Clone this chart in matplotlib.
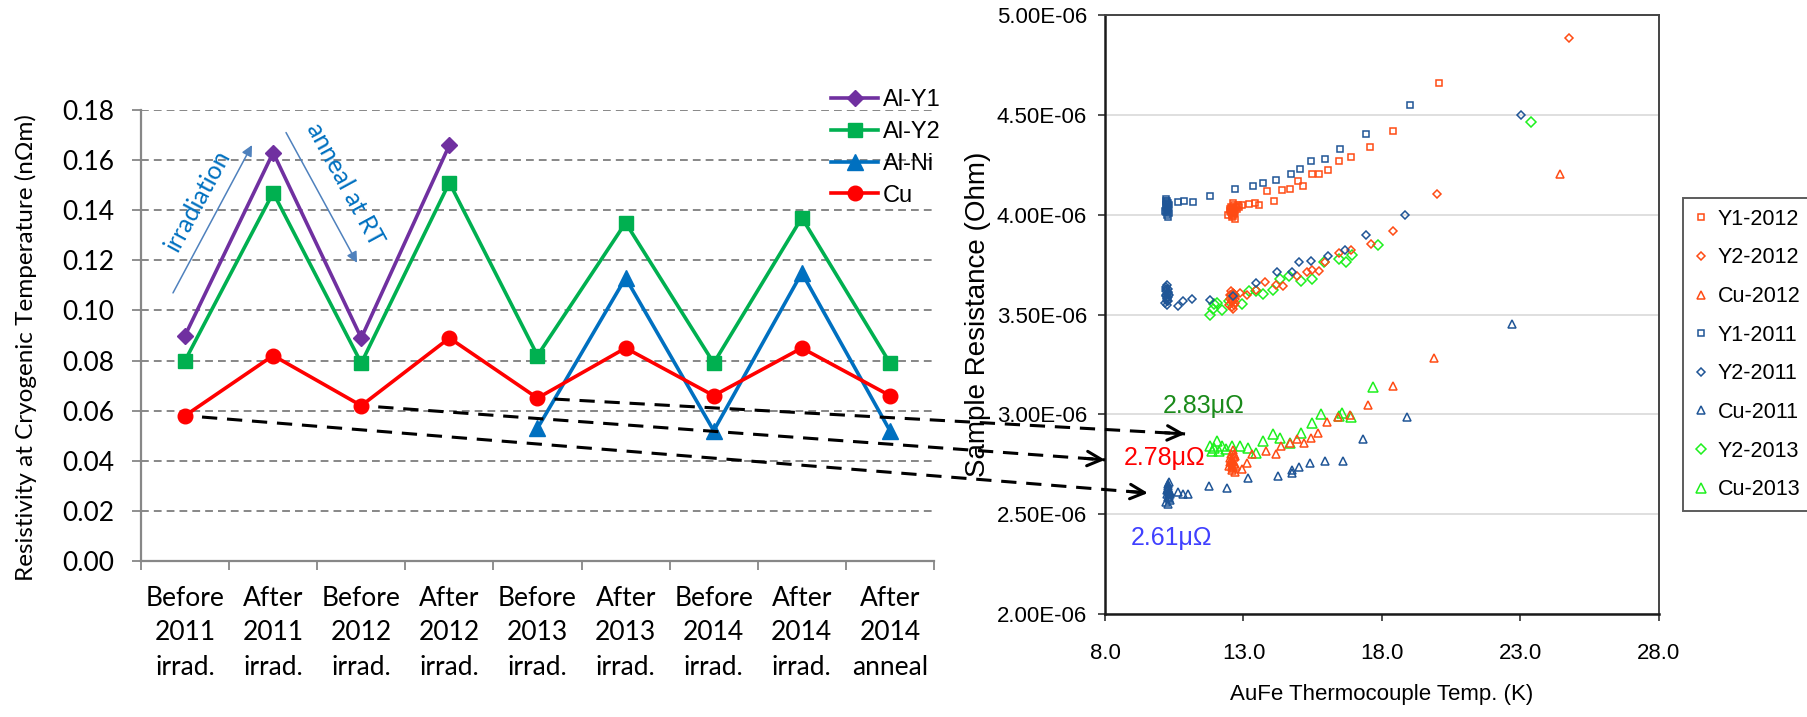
import numpy as np
import matplotlib
matplotlib.use("Agg")
import matplotlib.pyplot as plt
from matplotlib.lines import Line2D
from matplotlib.patches import FancyArrowPatch
from matplotlib.ticker import FuncFormatter

nan = np.nan

# ---------------- left panel: resistivity per stage ----------------
stages = ["Before\n2011\nirrad.", "After\n2011\nirrad.", "Before\n2012\nirrad.",
          "After\n2012\nirrad.", "Before\n2013\nirrad.", "After\n2013\nirrad.",
          "Before\n2014\nirrad.", "After\n2014\nirrad.", "After\n2014\nanneal"]
al_y1 = [0.090, 0.163, 0.089, 0.166, nan, nan, nan, nan, nan]
al_y2 = [0.080, 0.147, 0.079, 0.151, 0.082, 0.135, 0.079, 0.137, 0.079]
al_ni = [nan, nan, nan, nan, 0.053, 0.113, 0.052, 0.115, 0.052]
cu = [0.058, 0.082, 0.062, 0.089, 0.065, 0.085, 0.066, 0.085, 0.066]
left_yticks = [0.00, 0.02, 0.04, 0.06, 0.08, 0.10, 0.12, 0.14, 0.16, 0.18]

# ---------------- right panel: resistance vs temperature (uOhm) ----------------
y1_2012_T = [12.45, 12.50, 12.55, 12.58, 12.60, 12.62, 12.65, 12.68, 12.70, 12.52, 12.57,
             12.63, 12.66, 12.72, 12.75, 12.80, 12.85, 12.54, 12.61, 12.67, 12.59, 12.64,
             12.96, 13.19, 13.40, 13.56, 13.86, 14.11, 14.39, 14.67, 14.97, 15.14, 15.46,
             15.74, 16.06, 16.46, 16.89, 17.57, 18.38, 20.04]
y1_2012_R = [4.00, 4.02, 4.04, 3.99, 4.01, 4.03, 4.05, 3.98, 4.02, 4.03, 4.00,
             4.06, 4.01, 4.04, 4.03, 4.05, 4.04, 4.015, 3.995, 4.025, 4.035, 4.005,
             4.050, 4.053, 4.058, 4.047, 4.117, 4.067, 4.125, 4.128, 4.167, 4.145, 4.205,
             4.205, 4.225, 4.267, 4.287, 4.337, 4.417, 4.658]

y2_2012_T = [12.48, 12.52, 12.55, 12.58, 12.60, 12.62, 12.65, 12.68, 12.56, 12.63, 12.70,
             12.50, 12.66, 12.59, 12.61, 12.64, 12.57,
             12.89, 13.14, 13.44, 13.79, 14.17, 14.44, 14.94, 15.28, 15.47, 15.74, 15.94,
             16.46, 16.89, 17.61, 18.38, 19.97, 24.75]
y2_2012_R = [3.55, 3.58, 3.60, 3.54, 3.57, 3.61, 3.59, 3.56, 3.62, 3.53, 3.58,
             3.60, 3.55, 3.565, 3.585, 3.605, 3.575,
             3.608, 3.600, 3.625, 3.662, 3.650, 3.645, 3.695, 3.712, 3.725, 3.717, 3.763,
             3.808, 3.825, 3.853, 3.917, 4.102, 4.885]

cu_2012_T = [12.48, 12.52, 12.55, 12.58, 12.60, 12.62, 12.65, 12.68, 12.70, 12.56, 12.63,
             12.50, 12.66, 12.74, 12.59, 12.61, 12.64, 12.57,
             12.96, 13.14, 13.31, 13.83, 14.18, 14.35, 14.67, 14.94, 15.18, 15.42, 15.69,
             16.01, 16.40, 16.85, 17.51, 18.38, 19.88, 24.43]
cu_2012_R = [2.74, 2.78, 2.80, 2.72, 2.76, 2.82, 2.75, 2.79, 2.71, 2.77, 2.73,
             2.76, 2.80, 2.74, 2.745, 2.765, 2.785, 2.735,
             2.725, 2.758, 2.800, 2.817, 2.800, 2.842, 2.858, 2.875, 2.855, 2.883, 2.908,
             2.962, 2.988, 2.995, 3.045, 3.142, 3.283, 4.204]

y1_2011_T = [10.18, 10.20, 10.22, 10.23, 10.25, 10.26, 10.28, 10.30, 10.21, 10.27, 10.24,
             10.29, 10.19, 10.32, 10.25, 10.22, 10.26, 10.24, 10.28,
             10.64, 10.85, 11.17, 11.78, 12.68, 13.35, 13.72, 14.18, 14.71, 15.03, 15.43,
             15.94, 16.50, 17.44, 19.00]
y1_2011_R = [4.02, 4.05, 4.07, 4.03, 4.00, 4.06, 4.04, 4.01, 4.08, 3.99, 4.06,
             4.03, 4.04, 4.05, 4.07, 4.015, 4.035, 4.055, 4.025,
             4.063, 4.067, 4.062, 4.095, 4.130, 4.145, 4.158, 4.172, 4.205, 4.230, 4.267,
             4.278, 4.328, 4.403, 4.547]

y2_2011_T = [10.18, 10.20, 10.22, 10.24, 10.25, 10.27, 10.29, 10.21, 10.26, 10.23, 10.30,
             10.19, 10.28, 10.24, 10.22, 10.26, 10.25, 10.23,
             10.63, 10.80, 11.13, 11.78, 12.61, 13.44, 14.21, 14.74, 15.01, 15.43, 16.06,
             16.67, 17.44, 18.82, 23.03]
y2_2011_R = [3.56, 3.60, 3.63, 3.58, 3.65, 3.61, 3.57, 3.62, 3.59, 3.55, 3.60,
             3.64, 3.63, 3.57, 3.595, 3.615, 3.585, 3.605,
             3.542, 3.570, 3.580, 3.575, 3.595, 3.658, 3.713, 3.712, 3.762, 3.767, 3.795,
             3.822, 3.897, 3.998, 4.500]

cu_2011_T = [10.22, 10.25, 10.28, 10.30, 10.32, 10.34, 10.27, 10.29, 10.31, 10.24, 10.36,
             10.33, 10.26, 10.28, 10.30, 10.27, 10.31,
             10.64, 10.83, 11.01, 11.74, 12.40, 13.17, 14.24, 14.76, 14.76, 15.00, 15.39,
             15.94, 16.60, 17.33, 18.89, 22.68]
cu_2011_R = [2.56, 2.60, 2.63, 2.58, 2.66, 2.61, 2.55, 2.64, 2.59, 2.62, 2.57,
             2.60, 2.65, 2.585, 2.605, 2.625, 2.615,
             2.612, 2.600, 2.600, 2.642, 2.633, 2.683, 2.692, 2.708, 2.722, 2.738, 2.755,
             2.765, 2.765, 2.875, 2.987, 3.450]

y2_2013_T = [11.78, 11.89, 11.94, 12.06, 12.24, 12.47, 12.64, 12.96, 13.21, 13.44, 13.72,
             14.07, 14.31, 14.63, 15.08, 15.46, 15.92, 16.46, 16.71, 16.92, 17.86, 23.38]
y2_2013_R = [3.500, 3.528, 3.555, 3.558, 3.522, 3.567, 3.600, 3.555, 3.617, 3.617, 3.603,
             3.622, 3.678, 3.695, 3.667, 3.678, 3.762, 3.780, 3.763, 3.800, 3.847, 4.463]

cu_2013_T = [11.78, 11.85, 11.94, 12.06, 12.13, 12.24, 12.36, 12.58, 12.89, 13.17, 13.44,
             13.72, 14.07, 14.31, 14.67, 15.08, 15.46, 15.81, 16.43, 16.57, 16.89, 17.68]
cu_2013_R = [2.842, 2.817, 2.833, 2.867, 2.817, 2.842, 2.825, 2.842, 2.842, 2.833, 2.808,
             2.867, 2.900, 2.883, 2.855, 2.908, 2.955, 3.000, 2.992, 3.008, 2.988, 3.138]

right_xticks = [8.0, 13.0, 18.0, 23.0, 28.0]
right_yticks = [2.0e-6, 2.5e-6, 3.0e-6, 3.5e-6, 4.0e-6, 4.5e-6, 5.0e-6]

# resistance after each campaign's cooldown, with the stage it belongs to
link_stage = [0, 2, 4]                       # Before 2011 / 2012 / 2013 irrad.
link_target_T = [9.55, 8.0, 10.89]
link_target_R = [2.606e-6, 2.772e-6, 2.902e-6]
base_labels = ["2.61\u03bc\u03a9", "2.78\u03bc\u03a9", "2.83\u03bc\u03a9"]
base_label_T = [10.42, 10.17, 11.57]
base_label_R = [2.381e-6, 2.782e-6, 3.042e-6]
base_label_colors = ["#4040FF", "#FF0000", "#1A8A1A"]

# ---------------- figure ----------------
W, H = 1808, 717
fig = plt.figure(figsize=(W / 100, H / 100), dpi=100)

SANS = "Liberation Sans"
CAL = "Lato"

ax1 = fig.add_axes([141 / W, 1 - 561 / H, 793 / W, 451 / H])
ax2 = fig.add_axes([1105 / W, 1 - 614 / H, 554 / W, 599 / H])

# ---- left panel ----
xs = np.arange(len(stages))
grey = "#878787"
series = [
    ("Al-Y1", al_y1, "#7030A0", "D", 8.0),
    ("Al-Y2", al_y2, "#00B050", "s", 10.5),
    ("Al-Ni", al_ni, "#0070C0", "^", 11.0),
    ("Cu", cu, "#FF0000", "o", 10.5),
]
handles = []
for name, vals, col, mk, ms in series:
    h, = ax1.plot(xs, vals, color=col, lw=2.6, marker=mk, ms=ms,
                  markeredgecolor=col, label=name, zorder=3)
    handles.append(h)

ax1.set_xlim(-0.5, len(stages) - 0.5)
ax1.set_ylim(0, 0.18)
ax1.set_yticks(left_yticks)
ax1.yaxis.set_major_formatter(FuncFormatter(lambda v, p: f"{v:.2f}"))
ax1.set_xticks(xs)
ax1.set_xticklabels(stages, fontsize=19, family=CAL, linespacing=1.47)
ax1.set_xticks(np.arange(-0.5, len(stages), 1.0), minor=True)
ax1.tick_params(axis="x", which="major", length=0, pad=18)
ax1.tick_params(axis="x", which="minor", length=6.5, width=1.3, color=grey)
ax1.tick_params(axis="y", which="major", length=6.5, width=1.3, color=grey,
                pad=13, labelsize=19)
for lab in ax1.get_yticklabels():
    lab.set_family(CAL)
ax1.yaxis.grid(True, linestyle=(0, (4, 2.6)), color=grey, lw=1.4, zorder=0)
ax1.set_axisbelow(True)
for s in ("top", "right"):
    ax1.spines[s].set_visible(False)
for s in ("left", "bottom"):
    ax1.spines[s].set_color(grey)
    ax1.spines[s].set_linewidth(1.6)
ax1.set_ylabel("Resistivity at Cryogenic Temperature (n\u03a9m)", family=CAL, fontsize=17.5)
ax1.yaxis.set_label_coords(-0.131, 0.473)

ax1.legend(handles=handles, loc="upper left",
           bbox_to_anchor=(831 / W, 1 - 89 / H), bbox_transform=fig.transFigure,
           frameon=False, borderpad=0, borderaxespad=0, handlelength=2.0,
           handletextpad=0.2, labelspacing=0.42,
           prop={"family": SANS, "size": 17})

# process arrows
blue_txt = "#0070C0"
arrow_col = "#4F81BD"
ax1.annotate("", xy=(0.76, 0.166), xytext=(-0.137, 0.107),
             arrowprops=dict(arrowstyle="-|>", color=arrow_col, lw=1.1,
                             mutation_scale=16, shrinkA=0, shrinkB=0))
ax1.annotate("", xy=(1.952, 0.119), xytext=(1.146, 0.171),
             arrowprops=dict(arrowstyle="-|>", color=arrow_col, lw=1.1,
                             mutation_scale=16, shrinkA=0, shrinkB=0))
ax1.text(0.147, 0.144, "irradiation", rotation=61.5, color=blue_txt, family=CAL,
         fontsize=18, ha="center", va="center", rotation_mode="anchor")
ax1.text(1.82, 0.1505, "anneal at RT", rotation=-61.5, color=blue_txt, family=CAL,
         fontsize=18, ha="center", va="center", rotation_mode="anchor")

# ---- right panel ----
orange = "#FF4B14"
navy = "#1F5596"
lime = "#1EF01E"
scatter_sets = [
    ("Y1-2012", y1_2012_T, y1_2012_R, orange, "s", 4.6, 4),
    ("Y2-2012", y2_2012_T, y2_2012_R, orange, "D", 3.9, 4),
    ("Cu-2012", cu_2012_T, cu_2012_R, orange, "^", 5.2, 4),
    ("Y1-2011", y1_2011_T, y1_2011_R, navy, "s", 4.6, 5),
    ("Y2-2011", y2_2011_T, y2_2011_R, navy, "D", 3.9, 5),
    ("Cu-2011", cu_2011_T, cu_2011_R, navy, "^", 5.2, 5),
    ("Y2-2013", y2_2013_T, y2_2013_R, lime, "D", 5.6, 3),
    ("Cu-2013", cu_2013_T, cu_2013_R, lime, "^", 7.5, 3),
]
r_handles = []
for name, T, R, col, mk, ms, z in scatter_sets:
    h, = ax2.plot(T, np.array(R) * 1e-6, linestyle="none", marker=mk, ms=ms,
                  markerfacecolor="none", markeredgecolor=col, markeredgewidth=1.1,
                  label=name, zorder=z)
    r_handles.append(h)

ax2.set_xlim(8, 28)
ax2.set_ylim(2.0e-6, 5.0e-6)
ax2.set_xticks(right_xticks)
ax2.set_yticks(right_yticks)
ax2.xaxis.set_major_formatter(FuncFormatter(lambda v, p: f"{v:.1f}"))
ax2.yaxis.set_major_formatter(FuncFormatter(lambda v, p: f"{v:.2E}"))
ax2.tick_params(axis="both", direction="out", length=5, width=1.2, color="#333333",
                labelsize=16)
ax2.tick_params(axis="y", pad=8)
ax2.tick_params(axis="x", pad=16)
for lab in ax2.get_xticklabels() + ax2.get_yticklabels():
    lab.set_family(SANS)
ax2.yaxis.grid(True, color="#D9D9D9", lw=1.2, zorder=0)
ax2.set_axisbelow(True)
for s in ("left", "bottom"):
    ax2.spines[s].set_color("#1A1A1A")
    ax2.spines[s].set_linewidth(1.8)
for s in ("top", "right"):
    ax2.spines[s].set_color("#444444")
    ax2.spines[s].set_linewidth(1.4)
ax2.set_xlabel("AuFe Thermocouple Temp. (K)", family=SANS, fontsize=16, labelpad=14)
ax2.set_ylabel("Sample Resistance (Ohm)", family=SANS, fontsize=20)
ax2.yaxis.set_label_coords(-0.206, 0.5)

leg = ax2.legend(handles=r_handles, loc="upper left",
                 bbox_to_anchor=(1683 / W, 1 - 198 / H), bbox_transform=fig.transFigure,
                 frameon=True, fancybox=False, borderpad=0.5, borderaxespad=0,
                 handlelength=0.7, handletextpad=0.4, labelspacing=0.82,
                 prop={"family": SANS, "size": 15.5}, markerscale=1.0)
leg.get_frame().set_edgecolor("#333333")
leg.get_frame().set_linewidth(1.4)

for txt, T, R, col in zip(base_labels, base_label_T, base_label_R, base_label_colors):
    ax2.text(T, R, txt, color=col, fontsize=18, family=SANS,
             ha="center", va="center", zorder=8)

# ---- dashed links from the Cu baseline points to the measured resistance ----
fig.canvas.draw()
to_fig = fig.transFigure.inverted()
for st, T, R in zip(link_stage, link_target_T, link_target_R):
    p0 = ax1.transData.transform((st, cu[st]))
    p1 = ax2.transData.transform((T, R))
    d = (p1 - p0) / np.hypot(*(p1 - p0))
    start = p0 + d * 17
    a, b = to_fig.transform(start), to_fig.transform(p1)
    fig.add_artist(Line2D([a[0], b[0]], [a[1], b[1]], transform=fig.transFigure,
                          color="black", lw=2.2, linestyle=(0, (5, 3.2)), zorder=20))
    head0 = to_fig.transform(p1 - d * 20)
    fig.add_artist(FancyArrowPatch(posA=tuple(head0), posB=tuple(b),
                                   transform=fig.transFigure, arrowstyle="->",
                                   mutation_scale=26, lw=2.2, color="black",
                                   shrinkA=0, shrinkB=0, zorder=21))

fig.savefig("out.png", dpi=100)
